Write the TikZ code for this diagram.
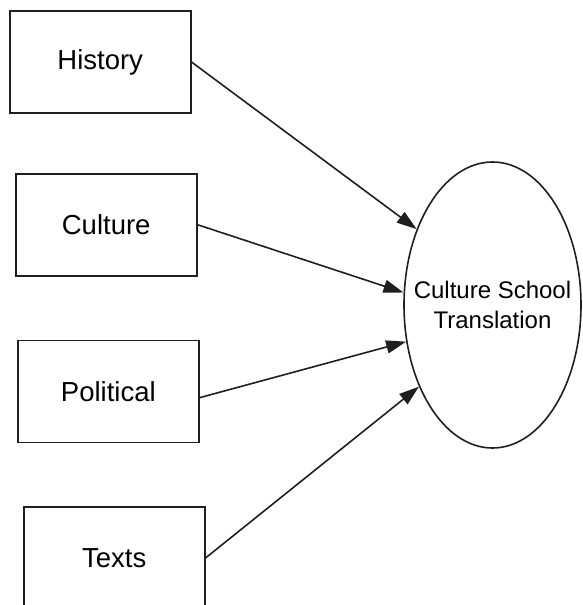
\documentclass[tikz,border=0pt]{standalone}
\usepackage{fontspec}
\setmainfont{Liberation Sans}
\usetikzlibrary{shapes.geometric,arrows.meta}
\begin{document}
\begin{tikzpicture}[x=1pt,y=-1pt,
  boxnode/.style={draw=black!88,line width=1.6pt,minimum width=181pt,minimum height=102pt,inner sep=0pt,font=\fontsize{27.5}{33}\selectfont},
  ellnode/.style={draw=black!88,ellipse,line width=1.6pt,minimum width=177pt,minimum height=286pt,inner sep=0pt},
  elltext/.style={align=center,inner sep=0pt,font=\fontsize{24}{30}\selectfont},
  conn/.style={draw=black!88,line width=1.6pt,-{Triangle[length=20pt,width=13pt]}}]
\useasboundingbox (0,0) rectangle (582,605);
\clip (0,0) rectangle (582,605);
\node[boxnode] (hist) at (100.2,62) {History};
\node[boxnode] (cult) at (106.2,224.7) {Culture};
\node[boxnode] (pol) at (108.3,391.3) {Political};
\node[boxnode] (txt) at (114.2,558) {Texts};
\node[ellnode] (cst) at (492.5,305) {};
\node[elltext] (csttext) at (cst.center) {Culture School\\Translation};
\draw[conn] (hist.east) -- (cst.135);
\draw[conn] (cult.east) -- (cst.172);
\draw[conn] (pol.-4.4) -- (cst.203);
\draw[conn] (txt.east) -- (cst.228);
\end{tikzpicture}
\end{document}
